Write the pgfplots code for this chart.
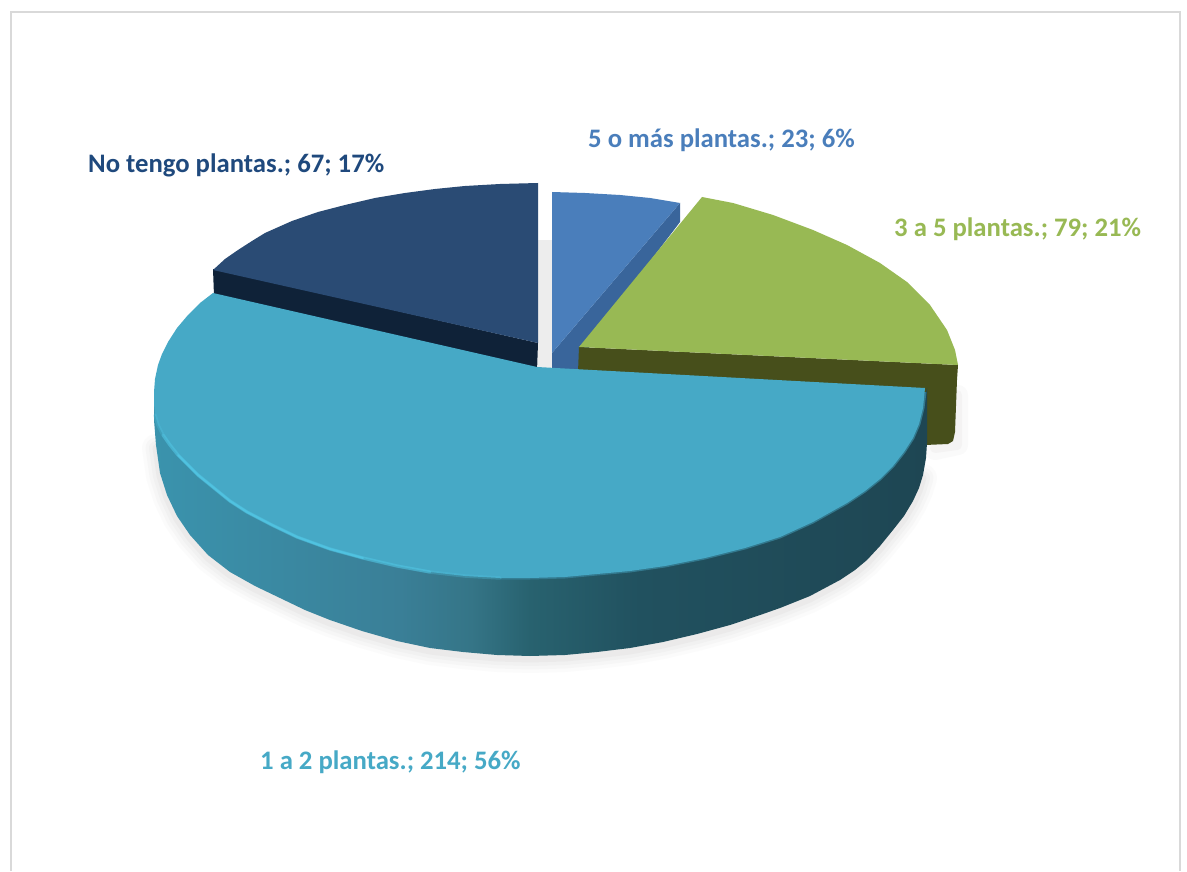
\documentclass[border=0pt]{standalone}
\usepackage{fontspec}
\setmainfont{Carlito}
\usepackage{pgfplots}
\usepackage{pgfplotstable}
\pgfplotsset{compat=1.18}
\definecolor{cNavy}{HTML}{2A4B74}
\definecolor{cNavyS}{HTML}{0F2238}
\definecolor{cBlue}{HTML}{4A7EBB}
\definecolor{cBlueS}{HTML}{39659B}
\definecolor{cGreen}{HTML}{98B954}
\definecolor{cGreenS}{HTML}{474F1B}
\definecolor{cTeal}{HTML}{46A9C6}
\definecolor{cRim}{HTML}{50C2E0}
\definecolor{cFrame}{HTML}{D9D9D9}
\definecolor{cLabN}{HTML}{1F497D}
\definecolor{cShadow}{HTML}{A8A4A4}
\definecolor{s0}{HTML}{3A93AD}
\definecolor{s1}{HTML}{3A7F97}
\definecolor{s2}{HTML}{357587}
\definecolor{s3}{HTML}{28626F}
\definecolor{s4}{HTML}{21515F}
\definecolor{s5}{HTML}{1E4653}
\pgfdeclarehorizontalshading{sidegrad}{100bp}{color(0bp)=(s0); color(25bp)=(s0); color(40.9bp)=(s1); color(45.5bp)=(s2); color(49.3bp)=(s3); color(56.4bp)=(s4); color(75bp)=(s5); color(100bp)=(s5)}
% outer bottom edge of the large slice, for its soft shadow
\pgfplotstableread{
x y
156 445
160 473
167 495
177 516
190 535
208 555
230 572
255 586
280 598
305 610
330 620
362 631
397 641
430 648
463 652
497 655
530 656
565 655
597 652
630 648
663 642
697 634
730 625
763 614
780 608
810 596
840 580
855 570
867 560
880 546
893 530
904 516
913 501
919 488
923 475
}\outer
\begin{document}
\begin{tikzpicture}
\begin{axis}[
  hide axis, scale only axis, width=1187pt, height=871pt,
  xmin=0, xmax=1187, ymin=0, ymax=871, y dir=reverse, clip=false]
% page
\addplot[fill=white, draw=none] coordinates {(0,0) (1187,0) (1187,871) (0,871)} -- cycle;
% frame
\addplot[cFrame, line width=1.3pt] coordinates {(11,871) (11,12) (1180,12) (1180,871)};
% soft shadows
\addplot[cShadow, opacity=.035, line width=28pt, line join=round, line cap=round] table[x=x, y expr=\thisrow{y}+3] {\outer};
\addplot[cShadow, opacity=.05, line width=21pt, line join=round, line cap=round] table[x=x, y expr=\thisrow{y}+3] {\outer};
\addplot[cShadow, opacity=.06, line width=14pt, line join=round, line cap=round] table[x=x, y expr=\thisrow{y}+3] {\outer};
\addplot[cShadow, opacity=.08, line width=7pt, line join=round, line cap=round] table[x=x, y expr=\thisrow{y}+3] {\outer};
\addplot[cShadow, opacity=.05, line width=20pt, line join=round, line cap=round] coordinates {(958,395) (958,445) (935,450)};
\addplot[cShadow, opacity=.07, line width=10pt, line join=round, line cap=round] coordinates {(957,395) (957,445) (935,448)};
\addplot[fill=black!7, draw=none] coordinates {(538,240) (552,240) (552,370) (538,370)} -- cycle;
% No tengo plantas: 67
\addplot[fill=cNavyS, draw=none] coordinates {(213,269) (214,296) (537,372) (538,343)} -- cycle;
\addplot[fill=cNavy, draw=none] coordinates {(538,183) (500,184) (465,186) (435,189) (405,193) (375,198) (345,205) (318,212) (292,221) (265,233) (252,241) (238,250) (225,259) (213,270) (538,343)} -- cycle;
% 5 o mas plantas: 23
\addplot[fill=cBlueS, draw=none] coordinates {(680,203) (680,222) (590,340) (585,372) (552,372) (552,353)} -- cycle;
\addplot[fill=cBlue, draw=none] coordinates {(552,192) (585,193) (620,195) (650,198) (680,203) (552,353)} -- cycle;
% 3 a 5 plantas: 79
\addplot[fill=cGreenS, draw=none] coordinates {(579,347) (958,365) (957,380) (955,432) (953,441) (948,444) (925,445) (925,392) (578,372)} -- cycle;
\addplot[fill=cGreen, draw=none] coordinates {(702,197) (733,203) (773,215) (813,230) (847,245) (880,263) (907,282) (930,305) (947,330) (955,350) (958,365) (579,347)} -- cycle;
% 1 a 2 plantas: 214, side
\addplot[shading=sidegrad, draw=none] coordinates {
(154,397) (154,420) (156,445) (160,473) (167,495) (177,516) (190,535) (208,555) (230,572) (255,586) (280,598) (305,610) (330,620) (362,631) (397,641) (430,648) (463,652) (497,655) (530,656) (565,655) (597,652) (630,648) (663,642) (697,634) (730,625) (763,614) (780,608) (810,596) (840,580) (855,570) (867,560) (880,546) (893,530) (904,516) (913,501) (919,488) (923,475) (926,458) (927,443) (927,388)
(923,408) (540,420)} -- cycle;
% soft edge of the top, right part
\addplot[cTeal!50!s5, line width=3pt, line join=round] coordinates {(500,578) (530,578) (565,577) (597,574) (630,571) (665,566) (705,558) (745,548) (780,537) (813,522) (847,503) (865,491) (880,479) (893,466) (904,452) (913,438) (919,424) (923,408) (925,392)};
% top
\addplot[fill=cTeal, draw=none] coordinates {
(537,367) (213,293) (200,303) (188,315) (177,328) (168,342) (162,354) (158,365) (155,379) (154,392) (154,404) (155,415) (158,425) (163,435) (170,445) (178,455) (188,465) (198,475) (214,488) (230,501) (247,512) (272,525) (297,537) (330,549) (363,558) (397,566) (430,572) (465,576) (500,578) (530,578) (565,577) (597,574) (630,571) (665,566) (705,558) (745,548) (780,537) (813,522) (847,503) (865,491) (880,479) (893,466) (904,452) (913,438) (919,424) (923,408) (925,388)} -- cycle;
% rim highlight
\addplot[cRim, opacity=.3, line width=3.5pt, line cap=round, line join=round] coordinates {(155,415) (158,425) (163,435) (170,445) (178,455) (188,465) (198,475) (214,488) (230,501) (247,512) (272,525) (297,537) (330,549) (363,558) (397,566) (430,572) (465,576) (500,578)};
\addplot[cRim, opacity=.5, line width=3pt, line cap=round, line join=round] coordinates {(163,435) (170,445) (178,455) (188,465) (198,475) (214,488) (230,501) (247,512) (272,525) (297,537) (330,549) (363,558) (397,566) (430,572)};
\addplot[cRim, line width=2pt, line cap=round, line join=round] coordinates {(178,455) (188,465) (198,475) (214,488) (230,501) (247,512) (272,525) (297,537) (330,549) (363,558)};
% labels
\def\lab{\fontsize{26.7}{30}\selectfont\bfseries}
\node[anchor=base west, inner sep=0pt, text=cBlue] at (axis cs:588,148) {\lab 5 o más plantas.; 23; 6\%};
\node[anchor=base west, inner sep=0pt, text=cGreen] at (axis cs:894,237) {\lab 3 a 5 plantas.; 79; 21\%};
\node[anchor=base west, inner sep=0pt, text=cLabN] at (axis cs:88,173) {\lab No tengo plantas.; 67; 17\%};
\node[anchor=base west, inner sep=0pt, text=cTeal] at (axis cs:260,769) {\lab 1 a 2 plantas.; 214; 56\%};
\end{axis}
\end{tikzpicture}
\end{document}
